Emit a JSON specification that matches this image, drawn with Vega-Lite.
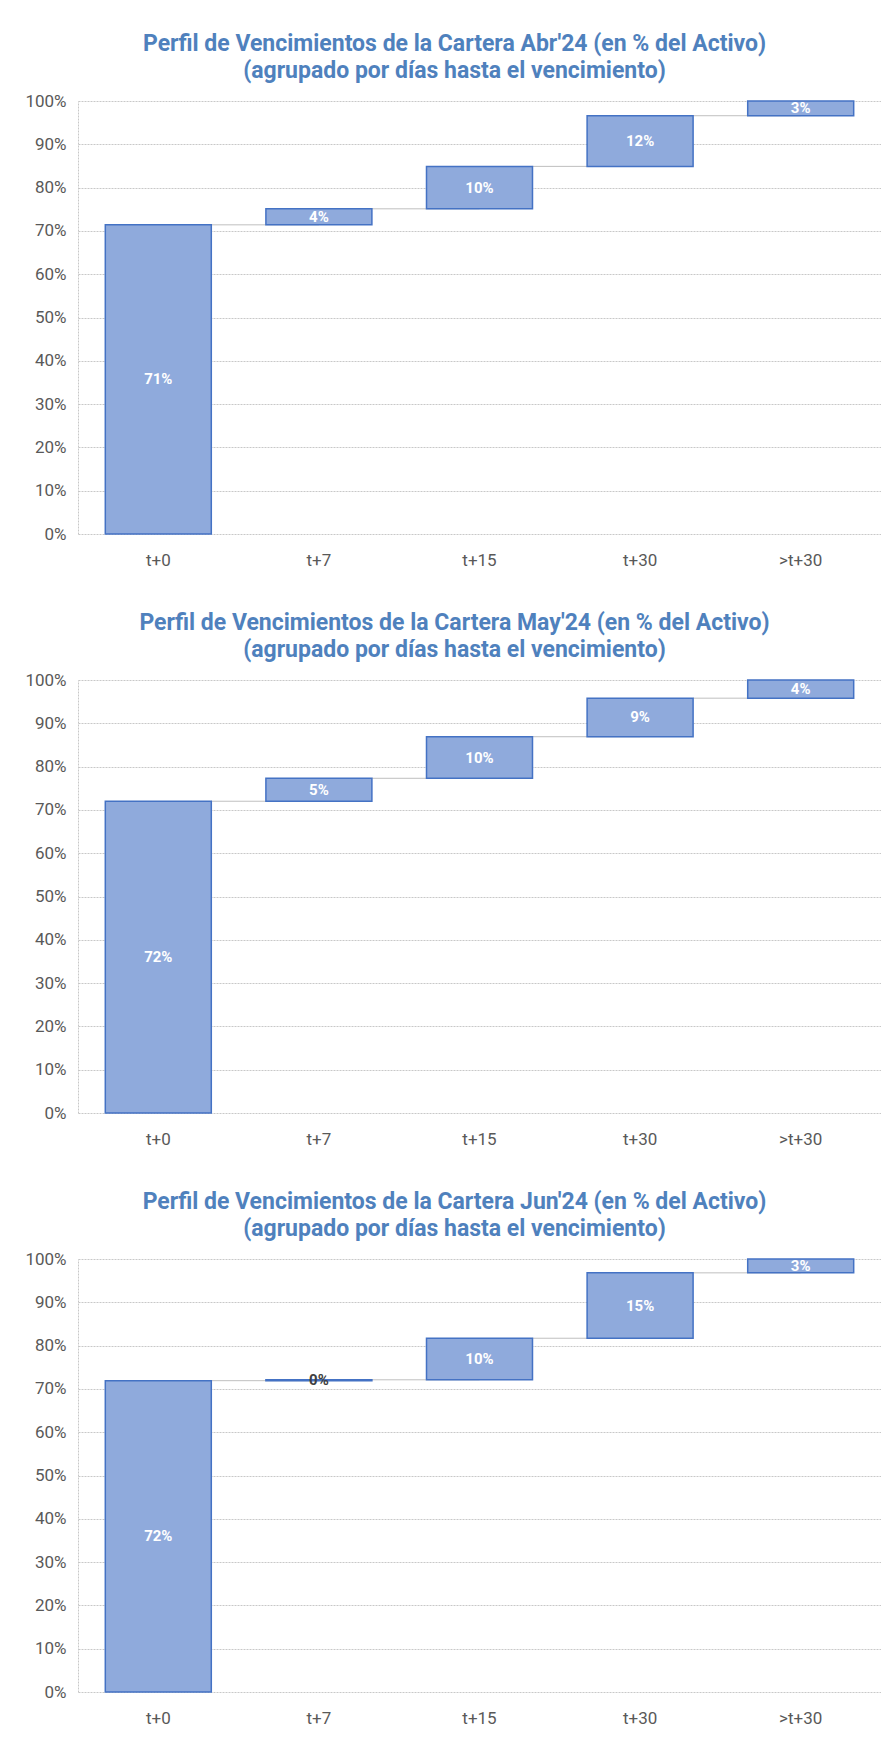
{
  "$schema": "https://vega.github.io/schema/vega-lite/v6.json",
  "padding": {"top": 33, "left": 24, "right": 0, "bottom": 0},
  "background": "white",
  "datasets": {
    "wf": [
      {"month": "Abr", "cat": "t+0", "next": "t+7", "start": 0, "end": 0.714, "share": 0.714},
      {"month": "Abr", "cat": "t+7", "next": "t+15", "start": 0.714, "end": 0.751, "share": 0.037},
      {"month": "Abr", "cat": "t+15", "next": "t+30", "start": 0.751, "end": 0.849, "share": 0.098},
      {"month": "Abr", "cat": "t+30", "next": ">t+30", "start": 0.849, "end": 0.966, "share": 0.117},
      {"month": "Abr", "cat": ">t+30", "next": null, "start": 0.966, "end": 1.0, "share": 0.034},
      {"month": "May", "cat": "t+0", "next": "t+7", "start": 0, "end": 0.72, "share": 0.72},
      {"month": "May", "cat": "t+7", "next": "t+15", "start": 0.72, "end": 0.773, "share": 0.053},
      {"month": "May", "cat": "t+15", "next": "t+30", "start": 0.773, "end": 0.869, "share": 0.096},
      {"month": "May", "cat": "t+30", "next": ">t+30", "start": 0.869, "end": 0.958, "share": 0.089},
      {"month": "May", "cat": ">t+30", "next": null, "start": 0.958, "end": 1.0, "share": 0.042},
      {"month": "Jun", "cat": "t+0", "next": "t+7", "start": 0, "end": 0.719, "share": 0.719},
      {"month": "Jun", "cat": "t+7", "next": "t+15", "start": 0.719, "end": 0.721, "share": 0.002},
      {"month": "Jun", "cat": "t+15", "next": "t+30", "start": 0.721, "end": 0.817, "share": 0.096},
      {"month": "Jun", "cat": "t+30", "next": ">t+30", "start": 0.817, "end": 0.968, "share": 0.151},
      {"month": "Jun", "cat": ">t+30", "next": null, "start": 0.968, "end": 1.0, "share": 0.032}
    ]
  },
  "data": {"name": "wf"},
  "spacing": 44,
  "vconcat": [
    {
      "title": {"text": ["Perfil de Vencimientos de la Cartera Abr'24 (en % del Activo)", "(agrupado por días hasta el vencimiento)"]},
      "width": 803, "height": 433,
      "transform": [{"filter": "datum.month == 'Abr'"}],
      "layer": [
        {"mark": {"type": "rule", "color": "#BFBFBF", "strokeWidth": 1},
         "transform": [{"filter": "datum.next != null"}],
         "encoding": {
           "x": {"field": "cat", "type": "nominal", "bandPosition": 1, "sort": ["t+0","t+7","t+15","t+30",">t+30"]},
           "x2": {"field": "next"},
           "y": {"field": "end", "type": "quantitative"}
         }},
        {"mark": {"type": "bar", "fill": "#8FAADC", "stroke": "#4472C4", "strokeWidth": 1.5},
         "encoding": {
           "x": {"field": "cat", "type": "nominal", "sort": ["t+0","t+7","t+15","t+30",">t+30"]},
           "y": {"field": "start", "type": "quantitative"},
           "y2": {"field": "end"}
         }},
        {"transform": [{"fold": ["start", "end"], "as": ["k", "v"]}],
         "mark": {"type": "text", "fontWeight": "bold", "fontSize": 15},
         "encoding": {
           "x": {"field": "cat", "type": "nominal", "sort": ["t+0","t+7","t+15","t+30",">t+30"]},
           "y": {"aggregate": "mean", "field": "v", "type": "quantitative"},
           "text": {"field": "share", "type": "quantitative", "format": ".0%"},
           "color": {"condition": {"test": "datum.share < 0.01", "value": "#404040"}, "value": "white"}
         }}
      ]
    },
    {
      "title": {"text": ["Perfil de Vencimientos de la Cartera May'24 (en % del Activo)", "(agrupado por días hasta el vencimiento)"]},
      "width": 803, "height": 433,
      "transform": [{"filter": "datum.month == 'May'"}],
      "layer": [
        {"mark": {"type": "rule", "color": "#BFBFBF", "strokeWidth": 1},
         "transform": [{"filter": "datum.next != null"}],
         "encoding": {
           "x": {"field": "cat", "type": "nominal", "bandPosition": 1, "sort": ["t+0","t+7","t+15","t+30",">t+30"]},
           "x2": {"field": "next"},
           "y": {"field": "end", "type": "quantitative"}
         }},
        {"mark": {"type": "bar", "fill": "#8FAADC", "stroke": "#4472C4", "strokeWidth": 1.5},
         "encoding": {
           "x": {"field": "cat", "type": "nominal", "sort": ["t+0","t+7","t+15","t+30",">t+30"]},
           "y": {"field": "start", "type": "quantitative"},
           "y2": {"field": "end"}
         }},
        {"transform": [{"fold": ["start", "end"], "as": ["k", "v"]}],
         "mark": {"type": "text", "fontWeight": "bold", "fontSize": 15},
         "encoding": {
           "x": {"field": "cat", "type": "nominal", "sort": ["t+0","t+7","t+15","t+30",">t+30"]},
           "y": {"aggregate": "mean", "field": "v", "type": "quantitative"},
           "text": {"field": "share", "type": "quantitative", "format": ".0%"},
           "color": {"condition": {"test": "datum.share < 0.01", "value": "#404040"}, "value": "white"}
         }}
      ]
    },
    {
      "title": {"text": ["Perfil de Vencimientos de la Cartera Jun'24 (en % del Activo)", "(agrupado por días hasta el vencimiento)"]},
      "width": 803, "height": 433,
      "transform": [{"filter": "datum.month == 'Jun'"}],
      "layer": [
        {"mark": {"type": "rule", "color": "#BFBFBF", "strokeWidth": 1},
         "transform": [{"filter": "datum.next != null"}],
         "encoding": {
           "x": {"field": "cat", "type": "nominal", "bandPosition": 1, "sort": ["t+0","t+7","t+15","t+30",">t+30"]},
           "x2": {"field": "next"},
           "y": {"field": "end", "type": "quantitative"}
         }},
        {"mark": {"type": "bar", "fill": "#8FAADC", "stroke": "#4472C4", "strokeWidth": 1.5},
         "encoding": {
           "x": {"field": "cat", "type": "nominal", "sort": ["t+0","t+7","t+15","t+30",">t+30"]},
           "y": {"field": "start", "type": "quantitative"},
           "y2": {"field": "end"}
         }},
        {"transform": [{"fold": ["start", "end"], "as": ["k", "v"]}],
         "mark": {"type": "text", "fontWeight": "bold", "fontSize": 15},
         "encoding": {
           "x": {"field": "cat", "type": "nominal", "sort": ["t+0","t+7","t+15","t+30",">t+30"]},
           "y": {"aggregate": "mean", "field": "v", "type": "quantitative"},
           "text": {"field": "share", "type": "quantitative", "format": ".0%"},
           "color": {"condition": {"test": "datum.share < 0.01", "value": "#404040"}, "value": "white"}
         }}
      ]
    }
  ],
  "config": {
    "font": "Roboto",
    "view": {"stroke": null},
    "scale": {"bandPaddingInner": 0.34, "bandPaddingOuter": 0.17},
    "axisX": {"title": null, "labelAngle": 0, "ticks": false, "domain": false, "grid": false, "labelPadding": 18, "labelFontSize": 17, "labelColor": "#595959", "labelFont": "Roboto"},
    "axisY": {"title": null, "format": ".0%", "values": [0, 0.1, 0.2, 0.3, 0.4, 0.5, 0.6, 0.7, 0.8, 0.9, 1.0], "ticks": false, "labelPadding": 12, "labelFontSize": 17, "labelColor": "#595959", "domain": true, "domainColor": "#C8C8C8", "domainDash": [2, 1], "grid": true, "gridColor": "#C8C8C8", "gridDash": [2, 1], "gridWidth": 1, "labelFont": "Roboto"},
    "title": {"fontSize": 23, "fontWeight": "bold", "color": "#4F81BD", "lineHeight": 27, "offset": 9, "dx": -25, "anchor": "middle", "font": "Roboto"}
  }
}
